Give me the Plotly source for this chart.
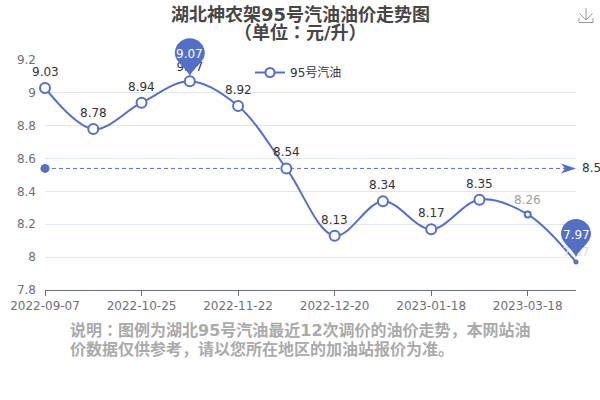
import plotly.graph_objects as go

categories = ["2022-09-07", "2022-09-20", "2022-10-25", "2022-11-08", "2022-11-22", "2022-12-05",
              "2022-12-20", "2023-01-03", "2023-01-18", "2023-02-03", "2023-03-18", "2023-04-04"]
prices = [9.03, 8.78, 8.94, 9.07, 8.92, 8.54, 8.13, 8.34, 8.17, 8.35, 8.26, 7.97]
mean_price = 8.54
tick_labels = ["2022-09-07", "2022-10-25", "2022-11-22", "2022-12-20", "2023-01-18", "2023-03-18"]
y_ticks = [7.8, 8, 8.2, 8.4, 8.6, 8.8, 9, 9.2]
y_tick_text = ["7.8", "8", "8.2", "8.4", "8.6", "8.8", "9", "9.2"]

BLUE = "#5470C6"
FONT = "DejaVu Sans, Noto Sans CJK JP, sans-serif"
Y_MIN, Y_MAX = 7.8, 9.2
L, T, W, H = 45, 60, 531, 230
PINNED = (3, 11)


def px(x):
    return (x - L) / W


def py(y):
    return (T + H - y) / H


fig = go.Figure()

# mean line
fig.add_trace(go.Scatter(x=categories, y=[mean_price] * len(categories), mode="lines",
                         line=dict(color=BLUE, width=1, dash="4px,3px"), showlegend=False, hoverinfo="skip"))
fig.add_trace(go.Scatter(x=categories[:1], y=[mean_price], mode="markers", cliponaxis=False,
                         marker=dict(color=BLUE, size=9), showlegend=False, hoverinfo="skip"))

sizes = [10] * len(prices)
sizes[10] = 6
sizes[11] = 3
fills = ["white"] * len(prices)
fills[11] = BLUE
label_colors = ["#333333"] * len(prices)
label_colors[11] = "#DDDDDD"
# labels that sit behind the pins are trace text, so the pins cover them
fig.add_trace(go.Scatter(x=categories, y=prices, mode="lines+markers+text", name="95号汽油",
                         text=[f"{v:.2f}" if i in PINNED else "" for i, v in enumerate(prices)],
                         textposition="top center",
                         textfont=dict(size=12, color=label_colors, family=FONT),
                         line=dict(color=BLUE, width=2, shape="spline", smoothing=1.0),
                         marker=dict(size=sizes, color=fills, opacity=1, line=dict(color=BLUE, width=2)),
                         cliponaxis=False))

shapes = []
annotations = []

for i, (c, v) in enumerate(zip(categories, prices)):
    if i in PINNED:
        continue
    annotations.append(dict(x=c, y=v, yshift=14 if i == 10 else 16, yanchor="middle", text=f"{v:.2f}",
                            showarrow=False,
                            font=dict(color="#A0A0A0" if i == 10 else "#333333", size=12, family=FONT)))

PIN_PATH = ("M 0 5 C -3 13 -15 19 -15 28 C -15 36.3 -8.3 43 0 43 "
            "C 8.3 43 15 36.3 15 28 C 15 19 3 13 0 5 Z")


def pin(i):
    val = prices[i]
    shapes.append(dict(type="path", xref="paper", yref="paper", xsizemode="pixel", ysizemode="pixel",
                       xanchor=i / (len(categories) - 1), yanchor=(val - Y_MIN) / (Y_MAX - Y_MIN),
                       path=PIN_PATH, fillcolor=BLUE, line=dict(width=0), layer="above"))
    annotations.append(dict(x=categories[i], y=val, yshift=27, text=f"{val:.2f}", showarrow=False,
                            font=dict(color="white", size=12, family=FONT)))


for i in PINNED:
    pin(i)

# arrow on the mean line
shapes.append(dict(type="path", xref="x", yref="y", xsizemode="pixel", ysizemode="pixel",
                   xanchor=categories[-1], yanchor=mean_price,
                   path="M 0 0 L -15 5 L -11 0 L -15 -5 Z", fillcolor=BLUE, line=dict(width=0)))
annotations.append(dict(x=categories[-1], y=mean_price, xshift=4, xanchor="left", text="8.54", showarrow=False,
                        font=dict(color="#333333", size=12, family=FONT)))

# download icon
icon = dict(type="path", xref="paper", yref="paper", line=dict(color="#999999", width=1), layer="above")
shapes.append(dict(icon, path=f"M {px(579)} {py(18)} L {px(579)} {py(22.5)} L {px(593)} {py(22.5)} L {px(593)} {py(18)}"))
shapes.append(dict(icon, path=f"M {px(586)} {py(8)} L {px(586)} {py(20)}"))
shapes.append(dict(icon, path=f"M {px(579.5)} {py(13.5)} L {px(586)} {py(20)} L {px(592.5)} {py(13.5)}"))


def title_line(text, y):
    annotations.append(dict(xref="paper", yref="paper", x=px(300), y=py(y), yanchor="middle",
                            text=f"<b>{text}</b>", showarrow=False, align="center",
                            font=dict(color="#464646", size=18, family=FONT)))


title_line("湖北神农架95号汽油油价走势图", 14)
title_line("（单位：元/升）", 32)


def note_line(text, y):
    annotations.append(dict(xref="paper", yref="paper", x=px(68), y=py(y), xanchor="left",
                            yanchor="middle", align="left", showarrow=False,
                            text=f"<b>{text}</b>",
                            font=dict(color="#AAAAAA", size=16, family=FONT)))


note_line("说明：图例为湖北95号汽油最近12次调价的油价走势，本网站油", 330)
note_line("价数据仅供参考，请以您所在地区的加油站报价为准。", 349.5)

fig.update_layout(
    width=600, height=400, margin=dict(l=L, r=600 - L - W, t=T, b=400 - T - H, pad=0, autoexpand=False),
    paper_bgcolor="white", plot_bgcolor="white", font=dict(family=FONT),
    shapes=shapes, annotations=annotations,
    legend=dict(x=px(250), y=py(58), xanchor="left", yanchor="top", itemwidth=30,
                font=dict(size=12, color="#333333"), bgcolor="rgba(0,0,0,0)"),
    xaxis=dict(type="category", categoryorder="array", categoryarray=categories, range=[0, 11],
               tickmode="array", tickvals=tick_labels, ticktext=tick_labels, ticks="outside", ticklen=5,
               tickcolor="#6E7079", linecolor="#6E7079", showline=True, showgrid=False, automargin=False,
               tickfont=dict(size=12, color="#6E7079"), zeroline=False),
    yaxis=dict(range=[Y_MIN, Y_MAX], tickmode="array", tickvals=y_ticks, ticktext=y_tick_text, automargin=False,
               gridcolor="#E0E6F1", gridwidth=1, showline=False, zeroline=False, ticks="",
               ticklabelstandoff=8, tickfont=dict(size=12, color="#6E7079")),
)
fig.write_html("out.html", config=dict(displayModeBar=False), post_script="document.body.style.margin='0';")
